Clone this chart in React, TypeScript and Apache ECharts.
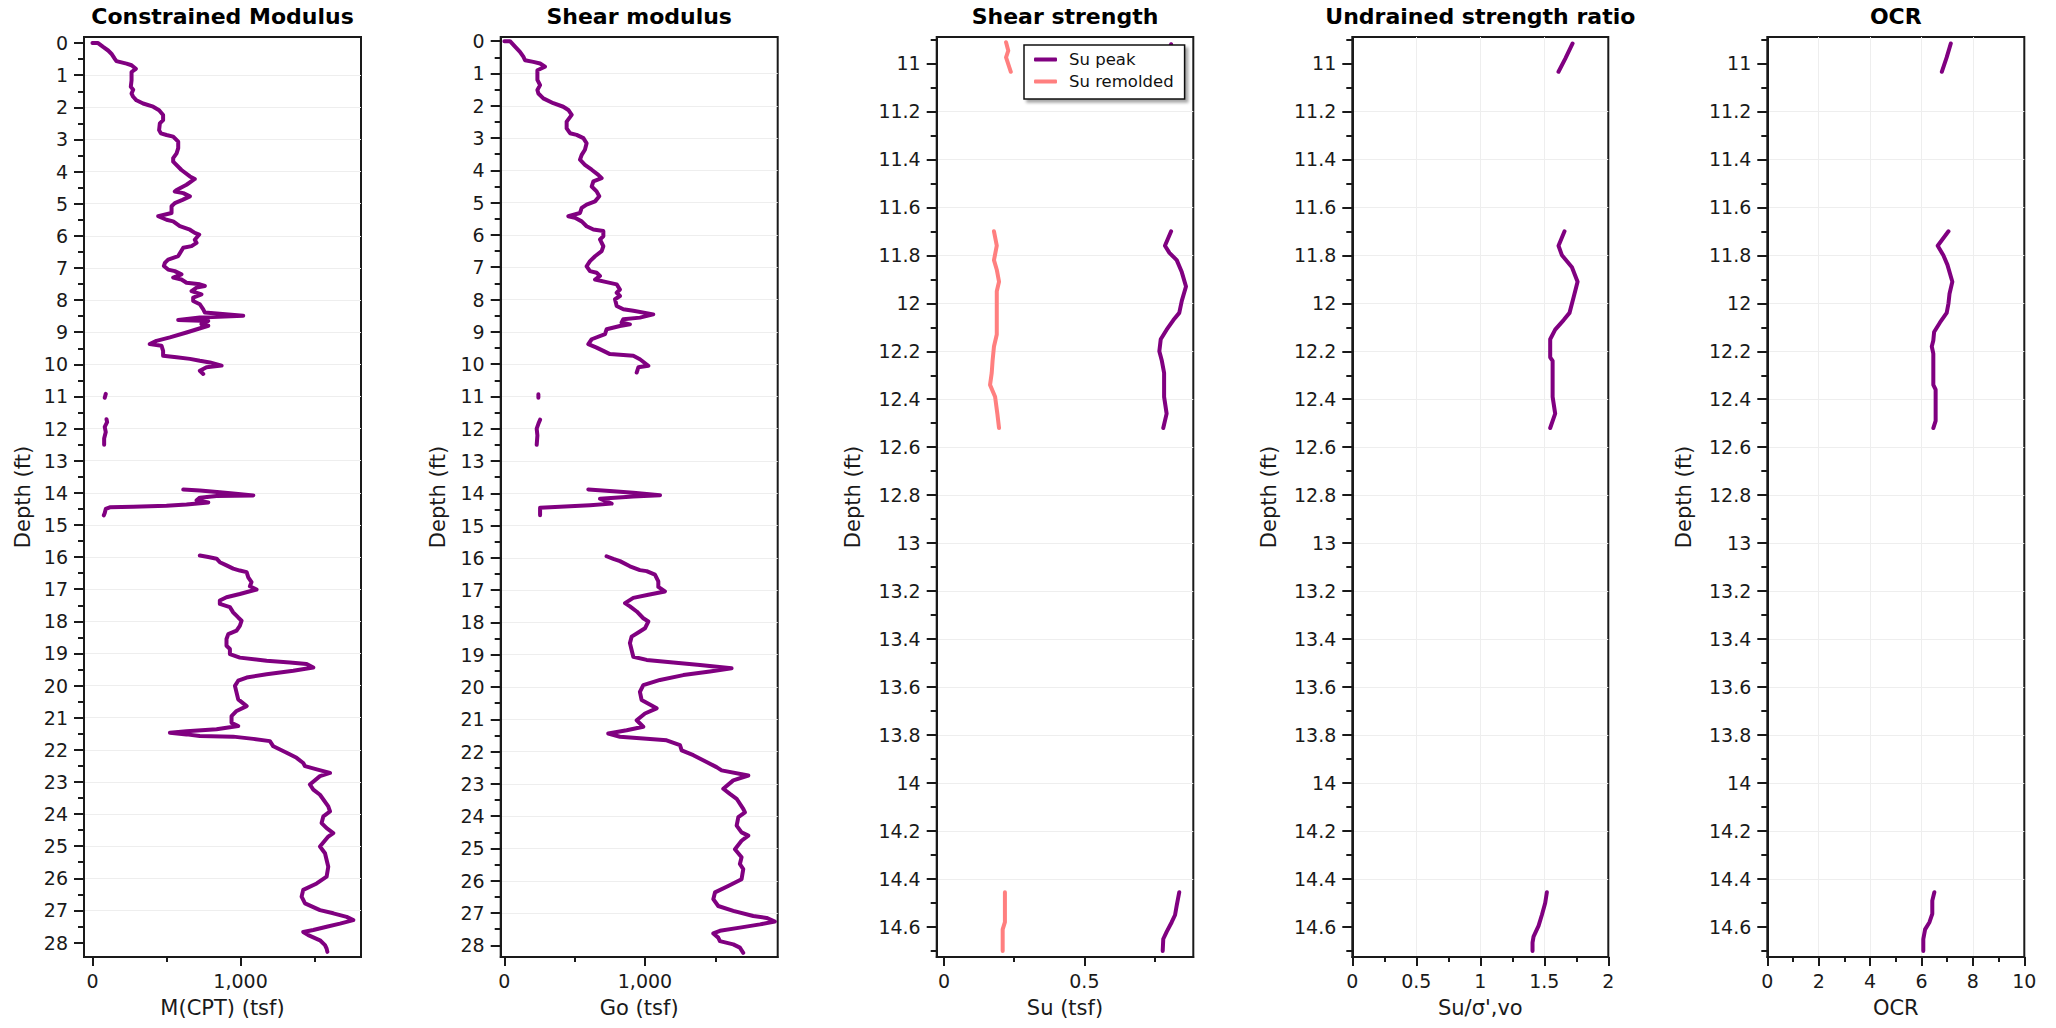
import React, { useEffect, useRef } from 'react';
import * as echarts from 'echarts';

type Pt = [number, number] | null;

// ---------- DATA ----------
// [M (tsf), depth (ft)]
const constrainedModulus: Pt[] = [
  [0, 0], [38, 0], [72, 0.12], [106, 0.23], [128, 0.33], [151, 0.49], [162, 0.56], [230, 0.64], [264, 0.69], [293, 0.8],
  [264, 0.9], [264, 1.16], [259, 1.36], [275, 1.45], [264, 1.57], [275, 1.67], [297, 1.78], [342, 1.88], [410, 1.98], [450, 2.09],
  [477, 2.24], [477, 2.4], [455, 2.5], [450, 2.71], [462, 2.81], [500, 2.86], [545, 2.91], [579, 3.07], [579, 3.27], [568, 3.43],
  [545, 3.58], [545, 3.69], [601, 3.95], [658, 4.15], [691, 4.23], [635, 4.41], [568, 4.57], [556, 4.62], [613, 4.67], [658, 4.77],
  [608, 4.88], [556, 4.98], [534, 5.08], [534, 5.29], [444, 5.39], [500, 5.5], [545, 5.55], [590, 5.7], [658, 5.81], [691, 5.91],
  [721, 5.96], [691, 6.12], [703, 6.22], [669, 6.32], [613, 6.37], [579, 6.63], [511, 6.74], [489, 6.84], [482, 6.94], [511, 7.05],
  [556, 7.1], [601, 7.2], [545, 7.3], [601, 7.36], [635, 7.46], [725, 7.51], [759, 7.56], [703, 7.61], [669, 7.72], [736, 7.82],
  [680, 7.92], [680, 8.03], [725, 8.13], [748, 8.29], [759, 8.39], [1018, 8.49], [725, 8.54], [579, 8.62], [782, 8.65], [736, 8.75],
  [782, 8.8], [635, 9.01], [523, 9.16], [432, 9.27], [387, 9.37], [466, 9.42], [477, 9.58], [477, 9.73], [568, 9.78], [658, 9.83],
  [725, 9.89], [793, 9.94], [872, 10.04], [770, 10.09], [725, 10.2], [748, 10.3],
  null,
  [90, 10.92], [83, 11.04],
  null,
  [95, 11.71], [99, 11.8], [83, 11.95], [90, 12.11], [79, 12.31], [79, 12.5],
  null,
  [613, 13.9], [725, 13.93], [860, 13.98], [950, 14.02], [1086, 14.08], [838, 14.1], [725, 14.15], [703, 14.23], [782, 14.3], [635, 14.36],
  [500, 14.4], [275, 14.43], [117, 14.45], [90, 14.5], [83, 14.63], [77, 14.7],
  null,
  [725, 15.95], [782, 16.0], [838, 16.05], [860, 16.16], [905, 16.26], [950, 16.36], [995, 16.42], [1041, 16.47], [1052, 16.63], [1074, 16.78],
  [1063, 16.91], [1108, 17.01], [995, 17.15], [905, 17.25], [860, 17.35], [860, 17.46], [928, 17.56], [950, 17.72], [984, 17.88], [1007, 17.98],
  [995, 18.14], [973, 18.29], [917, 18.4], [905, 18.55], [905, 18.76], [928, 18.86], [928, 19.02], [995, 19.13], [1176, 19.23], [1333, 19.28],
  [1446, 19.33], [1491, 19.44], [1356, 19.54], [1176, 19.65], [1041, 19.75], [984, 19.85], [962, 20.01], [973, 20.22], [984, 20.43], [1041, 20.64],
  [973, 20.79], [939, 20.95], [939, 21.16], [984, 21.26], [838, 21.36], [635, 21.42], [523, 21.47], [635, 21.52], [725, 21.57], [950, 21.59],
  [1086, 21.66], [1198, 21.73], [1221, 21.89], [1311, 22.09], [1378, 22.25], [1423, 22.41], [1435, 22.51], [1514, 22.61], [1604, 22.72], [1536, 22.82],
  [1468, 23.08], [1491, 23.24], [1536, 23.4], [1592, 23.76], [1604, 23.92], [1559, 24.07], [1547, 24.28], [1581, 24.44], [1626, 24.59], [1592, 24.7],
  [1536, 25.01], [1570, 25.22], [1581, 25.43], [1592, 25.64], [1581, 25.95], [1514, 26.16], [1423, 26.36], [1412, 26.57], [1435, 26.78], [1536, 26.99],
  [1626, 27.09], [1716, 27.2], [1761, 27.3], [1671, 27.41], [1581, 27.51], [1491, 27.61], [1423, 27.67], [1457, 27.77], [1536, 27.93], [1570, 28.08],
  [1581, 28.19], [1586, 28.29],
];

// [Go (tsf), depth (ft)]
const shearModulus: Pt[] = [
  [0, 0], [40, 0], [76, 0.17], [111, 0.33], [135, 0.48], [147, 0.59], [206, 0.64], [254, 0.69], [289, 0.79], [235, 0.9],
  [235, 1.2], [254, 1.36], [235, 1.51], [242, 1.62], [277, 1.77], [348, 1.92], [419, 2.03], [455, 2.13], [479, 2.28], [443, 2.49],
  [443, 2.7], [467, 2.85], [514, 2.9], [562, 3.0], [585, 3.16], [573, 3.36], [550, 3.52], [538, 3.67], [573, 3.83], [621, 3.98],
  [668, 4.14], [692, 4.24], [633, 4.34], [621, 4.5], [656, 4.65], [675, 4.8], [645, 4.96], [585, 5.06], [550, 5.16], [538, 5.32],
  [455, 5.42], [502, 5.47], [550, 5.58], [585, 5.73], [633, 5.83], [704, 5.88], [704, 6.04], [680, 6.14], [704, 6.35], [692, 6.5],
  [645, 6.66], [609, 6.81], [585, 6.97], [609, 7.12], [656, 7.17], [680, 7.27], [645, 7.38], [727, 7.46], [799, 7.53], [822, 7.69],
  [799, 7.79], [822, 7.89], [787, 7.99], [799, 8.2], [846, 8.3], [917, 8.35], [1059, 8.46], [964, 8.56], [846, 8.61], [834, 8.71],
  [893, 8.77], [822, 8.82], [727, 8.92], [716, 9.07], [621, 9.23], [597, 9.38], [656, 9.49], [704, 9.59], [751, 9.69], [917, 9.74],
  [964, 9.85], [1024, 10.05], [953, 10.1], [941, 10.26],
  null,
  [242, 10.93], [242, 11.04],
  null,
  [254, 11.72], [242, 11.85], [230, 12.0], [235, 12.21], [230, 12.5],
  null,
  [597, 13.88], [775, 13.94], [917, 13.98], [1107, 14.06], [917, 14.1], [680, 14.17], [763, 14.32], [609, 14.37], [396, 14.42], [254, 14.45],
  [254, 14.68],
  null,
  [727, 15.95], [775, 16.03], [822, 16.1], [893, 16.26], [964, 16.38], [1012, 16.41], [1071, 16.52], [1095, 16.73], [1095, 16.9], [1142, 17.04],
  [1024, 17.14], [917, 17.24], [858, 17.4], [893, 17.5], [941, 17.66], [988, 17.87], [1024, 17.97], [1000, 18.18], [964, 18.28], [905, 18.44],
  [893, 18.64], [905, 18.85], [917, 19.06], [1012, 19.16], [1201, 19.24], [1391, 19.32], [1616, 19.42], [1462, 19.52], [1273, 19.63], [1107, 19.78],
  [988, 19.94], [964, 20.15], [976, 20.4], [1083, 20.66], [1000, 20.82], [941, 21.03], [988, 21.23], [870, 21.34], [739, 21.44], [822, 21.54],
  [1012, 21.6], [1154, 21.65], [1249, 21.8], [1261, 21.96], [1344, 22.11], [1438, 22.32], [1509, 22.48], [1545, 22.58], [1735, 22.74], [1628, 22.89],
  [1557, 23.15], [1604, 23.31], [1652, 23.46], [1699, 23.77], [1711, 23.88], [1664, 24.03], [1652, 24.29], [1687, 24.5], [1735, 24.6], [1687, 24.76],
  [1640, 25.02], [1687, 25.27], [1675, 25.48], [1699, 25.64], [1687, 25.95], [1592, 26.16], [1498, 26.36], [1486, 26.57], [1521, 26.78], [1628, 26.93],
  [1770, 27.09], [1865, 27.15], [1924, 27.26], [1818, 27.35], [1675, 27.45], [1533, 27.55], [1486, 27.63], [1521, 27.76], [1533, 27.87], [1628, 27.97],
  [1675, 28.07], [1699, 28.23],
];

// [Su (tsf), depth (ft)]
const suPeak: Pt[] = [
  [0.809, 10.92], [0.79, 10.98], [0.77, 11.035],
  null,
  [0.809, 11.7], [0.787, 11.76], [0.803, 11.79], [0.829, 11.82], [0.847, 11.87], [0.862, 11.93], [0.847, 11.99], [0.838, 12.04],
  [0.817, 12.07], [0.793, 12.11], [0.772, 12.15], [0.767, 12.2], [0.776, 12.24], [0.784, 12.29], [0.784, 12.39], [0.793, 12.46], [0.781, 12.52],
  null,
  [0.838, 14.455], [0.829, 14.51], [0.823, 14.55], [0.811, 14.58], [0.793, 14.62], [0.781, 14.65], [0.779, 14.7],
];

const suRemolded: Pt[] = [
  [0.221, 10.912], [0.229, 10.947], [0.221, 10.975], [0.238, 11.035],
  null,
  [0.178, 11.7], [0.188, 11.76], [0.178, 11.82], [0.188, 11.86], [0.196, 11.91], [0.188, 11.95], [0.188, 12.13], [0.178, 12.18],
  [0.173, 12.24], [0.17, 12.29], [0.164, 12.34], [0.182, 12.39], [0.19, 12.46], [0.196, 12.52],
  null,
  [0.217, 14.455], [0.217, 14.58], [0.209, 14.61], [0.209, 14.7],
];

// [Su/σ'vo, depth (ft)]
const strengthRatio: Pt[] = [
  [1.721, 10.917], [1.664, 10.98], [1.611, 11.035],
  null,
  [1.658, 11.7], [1.611, 11.76], [1.638, 11.8], [1.716, 11.85], [1.76, 11.91], [1.729, 11.975], [1.697, 12.04], [1.651, 12.07],
  [1.585, 12.11], [1.546, 12.15], [1.546, 12.225], [1.565, 12.24], [1.565, 12.39], [1.585, 12.46], [1.546, 12.52],
  null,
  [1.52, 14.455], [1.507, 14.5], [1.481, 14.55], [1.455, 14.595], [1.416, 14.64], [1.408, 14.665], [1.408, 14.7],
];

// [OCR, depth (ft)]
const ocrValues: Pt[] = [
  [7.14, 10.917], [6.98, 10.975], [6.79, 11.035],
  null,
  [7.05, 11.7], [6.63, 11.76], [6.85, 11.8], [7.01, 11.84], [7.2, 11.91], [7.09, 11.96], [7.05, 12.0], [6.98, 12.04], [6.72, 12.08],
  [6.49, 12.12], [6.46, 12.155], [6.4, 12.18], [6.46, 12.21], [6.46, 12.34], [6.55, 12.36], [6.55, 12.49], [6.46, 12.52],
  null,
  [6.5, 14.455], [6.42, 14.49], [6.42, 14.545], [6.31, 14.58], [6.14, 14.61], [6.07, 14.65], [6.07, 14.7],
];

// tick values
const depthTicksFull = [0, 1, 2, 3, 4, 5, 6, 7, 8, 9, 10, 11, 12, 13, 14, 15, 16, 17, 18, 19, 20, 21, 22, 23, 24, 25, 26, 27, 28];
const depthTicksZoom = [11, 11.2, 11.4, 11.6, 11.8, 12, 12.2, 12.4, 12.6, 12.8, 13, 13.2, 13.4, 13.6, 13.8, 14, 14.2, 14.4, 14.6];
const modulusTicks = [0, 1000];
const suTicks = [0, 0.5];
const ratioTicks = [0, 0.5, 1, 1.5, 2];
const ocrTicks = [0, 2, 4, 6, 8, 10];

const panelTitles = ['Constrained Modulus', 'Shear modulus', 'Shear strength', 'Undrained strength ratio', 'OCR'];
const xAxisNames = ['M(CPT) (tsf)', 'Go (tsf)', 'Su (tsf)', "Su/σ',vo", 'OCR'];

// ---------- LAYOUT / STYLE ----------
const FONT = 'DejaVu Sans';
const INK = '#1a1a1a';
const PURPLE = '#800080';
const SALMON = '#FF7F7F';
const GRID_LINE = '#eeeeee';

const gridLeft = [84, 500.7, 936.7, 1352.3, 1767.3];
const gridWidth = [277, 277, 256.6, 256, 257];
const GRID_TOP = 37;
const GRID_HEIGHT = 920;

const toData = (pts: Pt[]) => pts.map((p) => (p ? p : ['-', '-']));

const fmtComma = (v: number) => Math.round(v).toLocaleString('en-US');
const fmtNum = (v: number) => String(Number(v.toFixed(2)));

const splitLineStyle = {
  show: true,
  showMinLine: false,
  showMaxLine: false,
  lineStyle: { color: GRID_LINE, width: 1 },
};

function makeYAxis(i: number, min: number, max: number, step: number, ticks: number[], nameGap: number) {
  return {
    type: 'value',
    gridIndex: i,
    inverse: true,
    min,
    max,
    splitNumber: Math.round((max - min) / step),
    minInterval: step,
    maxInterval: step,
    name: 'Depth (ft)',
    nameLocation: 'middle',
    nameGap,
    nameTextStyle: { fontFamily: FONT, fontSize: 21, color: INK },
    axisLine: { show: true, onZero: false, lineStyle: { color: INK, width: 2 } },
    axisTick: { show: true, length: 10, customValues: ticks, lineStyle: { color: INK, width: 2 } },
    minorTick: { show: true, splitNumber: 2, length: 6, lineStyle: { color: INK, width: 2 } },
    axisLabel: {
      customValues: ticks,
      interval: 0,
      margin: 16,
      fontFamily: FONT,
      fontSize: 19,
      color: INK,
      formatter: (v: number) => fmtNum(v),
    },
    splitLine: splitLineStyle,
  };
}

function makeXAxis(i: number, min: number, max: number, step: number, ticks: number[], fmt: (v: number) => string) {
  return {
    type: 'value',
    gridIndex: i,
    position: 'bottom',
    min,
    max,
    splitNumber: Math.max(1, Math.round((max - min) / step)),
    minInterval: step,
    maxInterval: step,
    name: xAxisNames[i],
    nameLocation: 'middle',
    nameGap: 40,
    nameTextStyle: { fontFamily: FONT, fontSize: 21, color: INK },
    axisLine: { show: true, onZero: false, lineStyle: { color: INK, width: 2 } },
    axisTick: { show: true, length: 9, customValues: ticks, lineStyle: { color: INK, width: 2 } },
    minorTick: { show: true, splitNumber: 2, length: 5, lineStyle: { color: INK, width: 2 } },
    axisLabel: {
      customValues: ticks,
      interval: 0,
      margin: 14,
      fontFamily: FONT,
      fontSize: 19,
      color: INK,
      formatter: fmt,
    },
    splitLine: splitLineStyle,
  };
}

function lineSeries(name: string, pts: Pt[], idx: number, color: string) {
  return {
    type: 'line',
    name,
    xAxisIndex: idx,
    yAxisIndex: idx,
    data: toData(pts),
    showSymbol: false,
    symbol: 'none',
    connectNulls: false,
    lineStyle: { color, width: 4, cap: 'round', join: 'round' },
    itemStyle: { color },
    emphasis: { disabled: true },
    z: 3,
  };
}

export default function App() {
  const ref = useRef<HTMLDivElement>(null);

  useEffect(() => {
    if (!ref.current) return;
    const chart = echarts.init(ref.current, undefined, { renderer: 'svg' });

    const grids = gridLeft.map((left, i) => ({
      left,
      top: GRID_TOP,
      width: gridWidth[i],
      height: GRID_HEIGHT,
      show: true,
      borderColor: INK,
      borderWidth: 2,
      backgroundColor: 'transparent',
      containLabel: false,
      outerBoundsMode: 'none',
    }));

    const option: any = {
      animation: false,
      backgroundColor: '#ffffff',
      textStyle: { fontFamily: FONT },
      grid: grids,
      xAxis: [
        makeXAxis(0, -57, 1813, 1000, modulusTicks, (v) => (v === 0 ? '0' : fmtComma(v))),
        makeXAxis(1, -26, 1944, 1000, modulusTicks, (v) => (v === 0 ? '0' : fmtComma(v))),
        makeXAxis(2, -0.026, 0.888, 0.5, suTicks, fmtNum),
        makeXAxis(3, 0, 2, 0.5, ratioTicks, fmtNum),
        makeXAxis(4, 0, 10, 2, ocrTicks, fmtNum),
      ],
      yAxis: [
        makeYAxis(0, -0.19, 28.45, 1, depthTicksFull, 51),
        makeYAxis(1, -0.13, 28.36, 1, depthTicksFull, 52),
        makeYAxis(2, 10.89, 14.725, 0.2, depthTicksZoom, 73),
        makeYAxis(3, 10.89, 14.725, 0.2, depthTicksZoom, 73),
        makeYAxis(4, 10.89, 14.725, 0.2, depthTicksZoom, 73),
      ],
      legend: {
        data: ['Su peak', 'Su remolded'],
        orient: 'vertical',
        left: 1024,
        top: 45,
        padding: [6, 11, 9, 10],
        itemGap: 5,
        itemWidth: 23,
        itemHeight: 4,
        icon: 'roundRect',
        selectedMode: false,
        backgroundColor: '#ffffff',
        borderColor: '#111111',
        borderWidth: 1.5,
        borderRadius: 0,
        shadowColor: 'rgba(0,0,0,0.35)',
        shadowBlur: 3,
        shadowOffsetX: 3,
        shadowOffsetY: 3,
        textStyle: { fontFamily: FONT, fontSize: 16.5, color: '#111111', padding: [0, 0, 0, 7] },
        z: 10,
      },
      graphic: panelTitles.map((t, i) => ({
        type: 'text',
        x: gridLeft[i] + gridWidth[i] / 2,
        y: 16,
        silent: true,
        style: {
          text: t,
          fontFamily: FONT,
          fontSize: 22,
          fontWeight: 'bold',
          fill: '#000000',
          align: 'center',
          verticalAlign: 'middle',
          textAlign: 'center',
          textVerticalAlign: 'middle',
        },
      })),
      series: [
        lineSeries('M(CPT)', constrainedModulus, 0, PURPLE),
        lineSeries('Go', shearModulus, 1, PURPLE),
        lineSeries('Su peak', suPeak, 2, PURPLE),
        lineSeries('Su remolded', suRemolded, 2, SALMON),
        lineSeries('Su ratio', strengthRatio, 3, PURPLE),
        lineSeries('OCR', ocrValues, 4, PURPLE),
      ],
    };

    chart.setOption(option);
    return () => chart.dispose();
  }, []);

  return (
    <div
      ref={ref}
      style={{ position: 'absolute', left: 0, top: 0, width: 2056, height: 1028, background: '#fff' }}
    />
  );
}
